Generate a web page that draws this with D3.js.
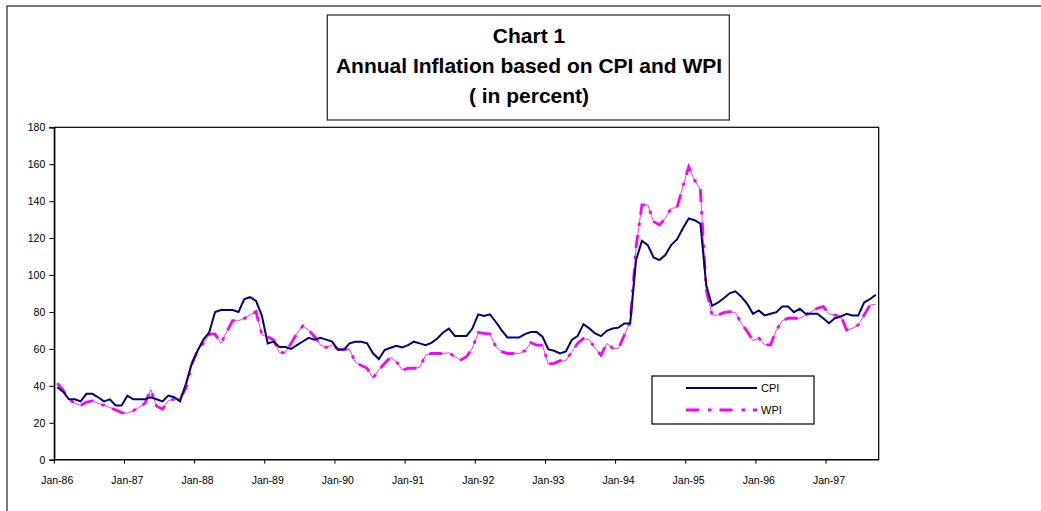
<!DOCTYPE html>
<html>
<head>
<meta charset="utf-8">
<script src="https://cdn.jsdelivr.net/npm/d3@7"></script>
<style>
  body { margin: 0; background: #fff; }
  svg text { font-family: "Liberation Sans", Arial, sans-serif; fill: #000; }
</style>
</head>
<body>
<svg id="chart" width="1041" height="511"></svg>
<script>
// monthly data, Jan-86 .. Sep-97
var cpi = [
  39.2, 36.8, 32.7, 32.7, 31.6, 35.7, 35.7, 33.8, 31.6, 32.7, 29.4, 29.4,
  34.7, 32.7, 32.7, 32.7, 33.8, 32.7, 31.6, 34.7, 33.8, 31.6, 41.0, 52.0,
  59.0, 65.0, 69.0, 80.0, 81.0, 81.0, 81.0, 80.0, 87.0, 88.0, 86.0, 78.0,
  63.0, 64.0, 61.0, 61.0, 60.0, 62.0, 64.0, 66.0, 65.0, 66.0, 65.0, 64.0,
  59.7, 59.5, 63.0, 63.9, 63.9, 63.0, 57.6, 54.5, 59.4, 60.6, 61.7, 60.8,
  62.0, 63.9, 63.0, 62.0, 63.3, 65.6, 68.9, 71.0, 67.0, 67.0, 67.0, 71.0,
  78.7, 77.8, 78.7, 74.7, 70.2, 66.2, 66.2, 66.2, 68.0, 69.1, 69.1, 66.6,
  59.7, 59.0, 57.5, 58.6, 64.8, 66.9, 73.4, 71.1, 68.4, 66.9, 69.8, 71.1,
  71.5, 73.8, 73.8, 108.1, 118.5, 116.2, 109.5, 108.1, 110.8, 116.2, 119.3, 125.2,
  130.6, 129.7, 127.9, 94.6, 83.3, 85.1, 87.4, 90.1, 91.2, 88.3, 84.4, 79.0,
  80.8, 78.1, 79.0, 79.9, 83.0, 83.0, 79.9, 81.7, 79.0, 79.0, 79.0, 76.6,
  73.9, 76.6, 77.5, 79.0, 78.1, 78.1, 85.1, 86.9, 89.3
];
var wpi = [
  41.3, 37.7, 32.7, 30.5, 29.4, 31.2, 31.8, 30.5, 29.4, 28.3, 26.9, 25.5,
  25.1, 26.5, 28.3, 30.5, 38.0, 29.0, 27.3, 32.0, 32.7, 33.2, 38.6, 51.3,
  59.4, 63.0, 68.0, 68.0, 63.0, 69.3, 75.3, 75.3, 76.5, 78.4, 80.2, 67.5,
  66.6, 64.8, 58.0, 58.0, 63.0, 68.4, 72.4, 70.2, 66.6, 62.1, 60.8, 62.1,
  59.8, 59.7, 59.7, 52.6, 51.0, 49.5, 44.1, 48.6, 52.2, 55.4, 53.1, 48.6,
  49.5, 49.5, 50.0, 56.6, 57.5, 57.5, 57.5, 57.9, 55.8, 54.0, 55.8, 60.3,
  68.8, 68.4, 68.0, 61.2, 58.5, 57.5, 57.5, 57.5, 59.0, 63.3, 62.0, 61.9,
  51.8, 52.2, 53.6, 53.6, 58.5, 63.0, 65.7, 64.8, 60.3, 56.6, 63.0, 60.3,
  60.3, 67.5, 74.7, 115.0, 138.0, 138.0, 128.9, 127.1, 130.7, 136.1, 136.6, 147.8,
  158.6, 151.4, 146.0, 91.9, 78.3, 78.3, 79.6, 80.2, 79.6, 73.9, 69.4, 64.5,
  65.8, 62.2, 62.2, 70.2, 75.3, 76.6, 76.6, 76.6, 78.3, 80.2, 82.0, 82.9,
  79.0, 78.3, 78.0, 70.2, 71.1, 72.9, 78.3, 83.7, 84.2
];
var yTicks = [0, 20, 40, 60, 80, 100, 120, 140, 160, 180];
var xTickLabels = ["Jan-86", "Jan-87", "Jan-88", "Jan-89", "Jan-90", "Jan-91",
                   "Jan-92", "Jan-93", "Jan-94", "Jan-95", "Jan-96", "Jan-97"];
var titleLines = ["Chart 1", "Annual Inflation based on CPI and WPI", "( in percent)"];
var seriesNames = ["CPI", "WPI"];

var fmt = d3.timeFormat("%b-%y");
var months = d3.timeMonths(new Date(1986, 0, 1), new Date(1997, 9, 1)).map(fmt);

var svg = d3.select("#chart");

// outer frame (runs off the right / bottom edge)
svg.append("rect")
   .attr("x", 7).attr("y", 6)
   .attr("width", 1100).attr("height", 600)
   .attr("fill", "#fff").attr("stroke", "#333").attr("stroke-width", 1.3);

// plot area
var pLeft = 54.3, pRight = 878.7, pTop = 127.3, pBottom = 459.7;

var x = d3.scaleBand().domain(months).range([pLeft, pRight]).paddingInner(0).paddingOuter(0);
var y = d3.scaleLinear().domain([0, 180]).range([pBottom, pTop]);
var cx = function(i){ return x(months[i]) + x.bandwidth() / 2; };

svg.append("rect")
   .attr("x", pLeft).attr("y", pTop)
   .attr("width", pRight - pLeft).attr("height", pBottom - pTop)
   .attr("fill", "none").attr("stroke", "#000").attr("stroke-width", 1.2);

// y axis
var yAxis = svg.append("g")
   .attr("transform", "translate(" + pLeft + ",0)")
   .call(d3.axisLeft(y).tickValues(yTicks).tickSize(5).tickPadding(4));
yAxis.select(".domain").attr("stroke", "#000").attr("stroke-width", 1.2);
yAxis.selectAll("line").attr("stroke", "#000");
yAxis.selectAll("text")
   .style("font-family", "'Liberation Sans', Arial, sans-serif")
   .style("font-size", "10.5px").attr("fill", "#000");

// x axis: ticks on category boundaries at each January
var xAxis = svg.append("g").attr("transform", "translate(0," + pBottom + ")");
xAxis.append("line")
   .attr("x1", pLeft).attr("x2", pRight)
   .attr("stroke", "#000").attr("stroke-width", 1.2);
xAxis.selectAll("line.tick")
   .data(xTickLabels)
   .enter().append("line")
   .attr("class", "tick")
   .attr("x1", function(d){ return x(d); })
   .attr("x2", function(d){ return x(d); })
   .attr("y1", 0).attr("y2", 4)
   .attr("stroke", "#000");
xAxis.selectAll("text")
   .data(xTickLabels)
   .enter().append("text")
   .attr("x", function(d){ return x(d) + x.bandwidth() / 2; })
   .attr("y", 24.5)
   .attr("text-anchor", "middle")
   .style("font-size", "10.5px")
   .text(function(d){ return d; });

// lines
var line = d3.line()
   .x(function(d, i){ return cx(i); })
   .y(function(d){ return y(d); });

svg.append("path")
   .datum(wpi)
   .attr("d", line)
   .attr("fill", "none")
   .attr("stroke", "#ff00ff")
   .attr("stroke-width", 0.8);
svg.append("path")
   .datum(wpi)
   .attr("d", line)
   .attr("fill", "none")
   .attr("stroke", "#ff00ff")
   .attr("stroke-width", 2.8)
   .attr("stroke-dasharray", "13,9,3.5,8");
svg.append("path")
   .datum(cpi)
   .attr("d", line)
   .attr("fill", "none")
   .attr("stroke", "#000080")
   .attr("stroke-width", 2);

// legend
var legend = svg.append("g");
legend.append("rect")
   .attr("x", 652).attr("y", 376)
   .attr("width", 162).attr("height", 48)
   .attr("fill", "#fff").attr("stroke", "#000").attr("stroke-width", 1.2);
legend.append("line")
   .attr("x1", 686).attr("x2", 757).attr("y1", 388).attr("y2", 388)
   .attr("stroke", "#000080").attr("stroke-width", 2);
legend.append("line")
   .attr("x1", 686).attr("x2", 757).attr("y1", 410).attr("y2", 410)
   .attr("stroke", "#ff00ff").attr("stroke-width", 2.8)
   .attr("stroke-dasharray", "13,9,3.5,8");
legend.selectAll("text")
   .data(seriesNames)
   .enter().append("text")
   .attr("x", 761)
   .attr("y", function(d, i){ return 392 + i * 22; })
   .style("font-size", "11px")
   .text(function(d){ return d; });

// title box
svg.append("rect")
   .attr("x", 327.3).attr("y", 15)
   .attr("width", 402).attr("height", 105)
   .attr("fill", "#fff").attr("stroke", "#333").attr("stroke-width", 1.3);
svg.selectAll("text.title")
   .data(titleLines)
   .enter().append("text")
   .attr("class", "title")
   .attr("x", 529)
   .attr("y", function(d, i){ return 43.3 + i * 30; })
   .attr("text-anchor", "middle")
   .style("font-size", "21px")
   .style("font-weight", "bold")
   .text(function(d){ return d; });
</script>
</body>
</html>
